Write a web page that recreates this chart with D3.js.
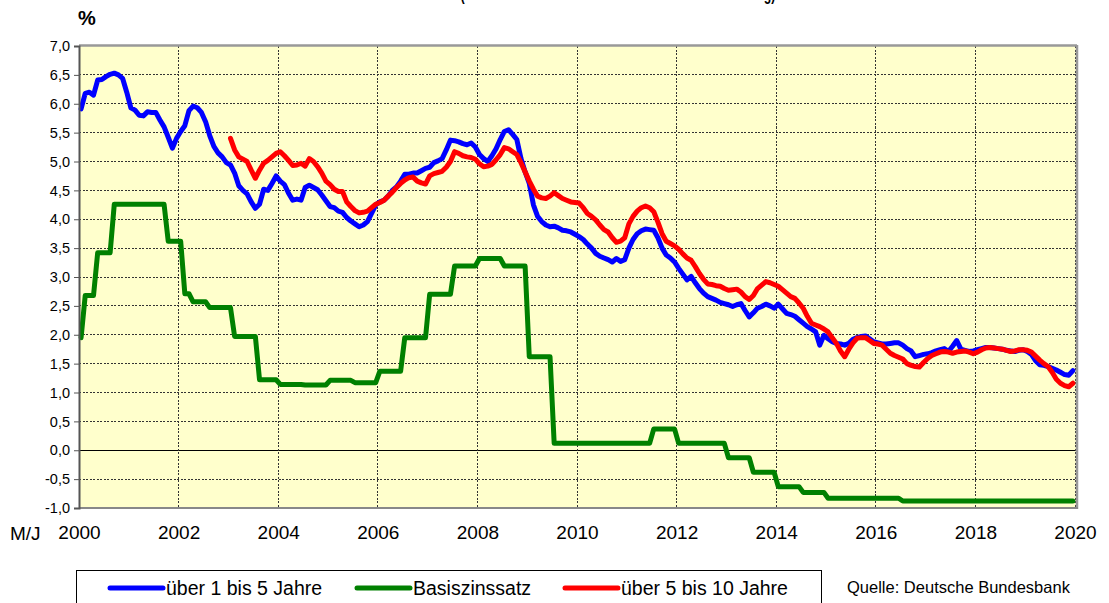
<!DOCTYPE html>
<html>
<head>
<meta charset="utf-8">
<script src="https://cdn.jsdelivr.net/npm/d3@7"></script>
<style>
  body { margin: 0; background: #fff; }
  svg { display: block; font-family: "Liberation Sans", Arial, sans-serif; }
</style>
</head>
<body>
<svg id="chart"></svg>
<script>
// monthly values, Jan 2000 .. Dec 2019 (one row per year)
const blue = [
  5.91, 6.18, 6.20, 6.15, 6.41, 6.42, 6.47, 6.51, 6.53, 6.50, 6.44, 6.20,
  5.93, 5.89, 5.80, 5.79, 5.86, 5.85, 5.85, 5.72, 5.60, 5.42, 5.23, 5.40,
  5.52, 5.62, 5.88, 5.96, 5.93, 5.85, 5.69, 5.45, 5.26, 5.15, 5.08, 4.98,
  4.94, 4.80, 4.58, 4.50, 4.44, 4.30, 4.19, 4.26, 4.52, 4.50, 4.62, 4.75,
  4.66, 4.60, 4.45, 4.33, 4.35, 4.33, 4.55, 4.59, 4.55, 4.51, 4.42, 4.32,
  4.22, 4.20, 4.14, 4.12, 4.03, 3.97, 3.92, 3.87, 3.90, 3.96, 4.10, 4.25,
  4.30, 4.33, 4.40, 4.50, 4.56, 4.66, 4.78, 4.78, 4.80, 4.80, 4.84, 4.88,
  4.90, 4.98, 5.01, 5.05, 5.20, 5.37, 5.36, 5.34, 5.31, 5.29, 5.32, 5.25,
  5.12, 5.05, 5.00, 5.10, 5.22, 5.38, 5.52, 5.55, 5.47, 5.38, 5.05, 4.82,
  4.62, 4.25, 4.05, 3.96, 3.90, 3.87, 3.88, 3.85, 3.81, 3.80, 3.78, 3.74,
  3.70, 3.65, 3.57, 3.50, 3.41, 3.36, 3.33, 3.30, 3.26, 3.32, 3.27, 3.30,
  3.50, 3.65, 3.75, 3.80, 3.83, 3.82, 3.81, 3.68, 3.50, 3.38, 3.33, 3.26,
  3.15, 3.05, 2.95, 3.01, 2.90, 2.80, 2.72, 2.66, 2.63, 2.60, 2.56, 2.54,
  2.52, 2.49, 2.52, 2.54, 2.42, 2.31, 2.38, 2.46, 2.49, 2.53, 2.50, 2.46,
  2.53, 2.45, 2.37, 2.35, 2.32, 2.26, 2.20, 2.14, 2.10, 2.05, 1.82, 1.99,
  1.93, 1.88, 1.85, 1.84, 1.82, 1.85, 1.92, 1.95, 1.97, 1.98, 1.93, 1.88,
  1.86, 1.84, 1.84, 1.85, 1.86, 1.86, 1.82, 1.76, 1.72, 1.62, 1.64, 1.66,
  1.67, 1.69, 1.72, 1.74, 1.76, 1.71, 1.80, 1.90, 1.75, 1.73, 1.71, 1.72,
  1.74, 1.76, 1.78, 1.78, 1.77, 1.76, 1.75, 1.73, 1.72, 1.71, 1.73, 1.74,
  1.71, 1.66, 1.55, 1.48, 1.47, 1.45, 1.42, 1.39, 1.35, 1.31, 1.30, 1.38
];

const green = [
  1.95, 2.68, 2.68, 2.68, 3.42, 3.42, 3.42, 3.42, 4.26, 4.26, 4.26, 4.26,
  4.26, 4.26, 4.26, 4.26, 4.26, 4.26, 4.26, 4.26, 4.26, 3.62, 3.62, 3.62,
  3.62, 2.71, 2.71, 2.57, 2.57, 2.57, 2.57, 2.47, 2.47, 2.47, 2.47, 2.47,
  2.47, 1.97, 1.97, 1.97, 1.97, 1.97, 1.97, 1.22, 1.22, 1.22, 1.22, 1.22,
  1.14, 1.14, 1.14, 1.14, 1.14, 1.14, 1.13, 1.13, 1.13, 1.13, 1.13, 1.13,
  1.21, 1.21, 1.21, 1.21, 1.21, 1.21, 1.17, 1.17, 1.17, 1.17, 1.17, 1.17,
  1.37, 1.37, 1.37, 1.37, 1.37, 1.37, 1.95, 1.95, 1.95, 1.95, 1.95, 1.95,
  2.70, 2.70, 2.70, 2.70, 2.70, 2.70, 3.19, 3.19, 3.19, 3.19, 3.19, 3.19,
  3.32, 3.32, 3.32, 3.32, 3.32, 3.32, 3.19, 3.19, 3.19, 3.19, 3.19, 3.19,
  1.62, 1.62, 1.62, 1.62, 1.62, 1.62, 0.12, 0.12, 0.12, 0.12, 0.12, 0.12,
  0.12, 0.12, 0.12, 0.12, 0.12, 0.12, 0.12, 0.12, 0.12, 0.12, 0.12, 0.12,
  0.12, 0.12, 0.12, 0.12, 0.12, 0.12, 0.37, 0.37, 0.37, 0.37, 0.37, 0.37,
  0.12, 0.12, 0.12, 0.12, 0.12, 0.12, 0.12, 0.12, 0.12, 0.12, 0.12, 0.12,
  -0.13, -0.13, -0.13, -0.13, -0.13, -0.13, -0.38, -0.38, -0.38, -0.38, -0.38, -0.38,
  -0.63, -0.63, -0.63, -0.63, -0.63, -0.63, -0.73, -0.73, -0.73, -0.73, -0.73, -0.73,
  -0.83, -0.83, -0.83, -0.83, -0.83, -0.83, -0.83, -0.83, -0.83, -0.83, -0.83, -0.83,
  -0.83, -0.83, -0.83, -0.83, -0.83, -0.83, -0.88, -0.88, -0.88, -0.88, -0.88, -0.88,
  -0.88, -0.88, -0.88, -0.88, -0.88, -0.88, -0.88, -0.88, -0.88, -0.88, -0.88, -0.88,
  -0.88, -0.88, -0.88, -0.88, -0.88, -0.88, -0.88, -0.88, -0.88, -0.88, -0.88, -0.88,
  -0.88, -0.88, -0.88, -0.88, -0.88, -0.88, -0.88, -0.88, -0.88, -0.88, -0.88, -0.88
];

// red series starts Jan 2003 (month index 36)
const redStart = 36;
const red = [
  5.40, 5.20, 5.08, 5.04, 5.00, 4.85, 4.71, 4.85, 4.97, 5.02, 5.08, 5.14,
  5.17, 5.10, 5.02, 4.93, 4.94, 4.97, 4.92, 5.05, 5.00, 4.91, 4.80, 4.66,
  4.60, 4.52, 4.48, 4.48, 4.30, 4.22, 4.15, 4.11, 4.12, 4.14, 4.20, 4.26,
  4.29, 4.33, 4.40, 4.47, 4.55, 4.62, 4.68, 4.72, 4.73, 4.66, 4.63, 4.61,
  4.75, 4.79, 4.81, 4.83, 4.90, 5.00, 5.17, 5.14, 5.10, 5.08, 5.07, 5.04,
  4.96, 4.91, 4.92, 4.95, 5.03, 5.12, 5.24, 5.22, 5.17, 5.12, 4.98, 4.82,
  4.66, 4.52, 4.40, 4.37, 4.36, 4.40, 4.46, 4.41, 4.36, 4.33, 4.30, 4.29,
  4.28, 4.20, 4.10, 4.05, 3.99, 3.90, 3.82, 3.78, 3.68, 3.60, 3.62, 3.68,
  3.92, 4.05, 4.14, 4.20, 4.23, 4.20, 4.13, 3.95, 3.75, 3.62, 3.58, 3.54,
  3.48, 3.40, 3.33, 3.29, 3.18, 3.06, 2.96, 2.88, 2.87, 2.85, 2.84, 2.80,
  2.77, 2.78, 2.79, 2.74, 2.66, 2.61, 2.68, 2.80, 2.86, 2.92, 2.90, 2.87,
  2.84, 2.78, 2.72, 2.66, 2.63, 2.55, 2.46, 2.32, 2.20, 2.17, 2.14, 2.10,
  2.05, 1.95, 1.85, 1.72, 1.62, 1.75, 1.86, 1.94, 1.95, 1.95, 1.90, 1.85,
  1.84, 1.82, 1.75, 1.68, 1.64, 1.61, 1.58, 1.50, 1.47, 1.45, 1.44, 1.52,
  1.59, 1.64, 1.67, 1.70, 1.71, 1.70, 1.68, 1.70, 1.71, 1.72, 1.70, 1.67,
  1.70, 1.74, 1.77, 1.78, 1.77, 1.76, 1.75, 1.73, 1.71, 1.72, 1.74, 1.74,
  1.73, 1.70, 1.63, 1.56, 1.50, 1.45, 1.35, 1.23, 1.16, 1.12, 1.10, 1.16
];

const yearLabels = [2000, 2002, 2004, 2006, 2008, 2010, 2012, 2014, 2016, 2018, 2020];
const yTicks = [-1.0, -0.5, 0.0, 0.5, 1.0, 1.5, 2.0, 2.5, 3.0, 3.5, 4.0, 4.5, 5.0, 5.5, 6.0, 6.5, 7.0];
const seriesNames = ["über 1 bis 5 Jahre", "Basiszinssatz", "über 5 bis 10 Jahre"];
const seriesColors = ["#0000ff", "#008000", "#ff0000"];

const W = 1109, H = 603;
const plot = {left: 79, right: 1076, top: 46, bottom: 508};
const firstYear = 2000;

const svg = d3.select("#chart").attr("width", W).attr("height", H);

const x = d3.scaleLinear().domain([0, 240]).range([plot.left, plot.right - 1]);
const y = d3.scaleLinear().domain([-1, 7]).range([plot.bottom, plot.top]);
const fmt = v => v.toFixed(1).replace(".", ",");

// title (mostly outside the picture, only the descenders show)
svg.append("text")
    .attr("x", 618).attr("y", -0.5)
    .attr("text-anchor", "middle")
    .attr("font-size", 18).attr("font-weight", "bold")
    .attr("textLength", 315).attr("lengthAdjust", "spacingAndGlyphs")
    .text("(Durchschnittsrenditen nach Restlaufzeit-Gliederung)");

svg.append("text")
    .attr("x", 87).attr("y", 25)
    .attr("text-anchor", "middle")
    .attr("font-size", 20).attr("font-weight", "bold")
    .text("%");

// plot background
svg.append("rect")
    .attr("x", plot.left).attr("y", plot.top)
    .attr("width", plot.right - plot.left).attr("height", plot.bottom - plot.top)
    .attr("fill", "#ffffcc");

// grid
const grid = svg.append("g");
grid.selectAll(".hgrid")
    .data(yTicks.filter(v => v > -1 && v < 7))
    .join("line")
    .attr("x1", plot.left).attr("x2", plot.right)
    .attr("y1", d => y(d)).attr("y2", d => y(d))
    .attr("stroke", d => d === 0 ? "#000" : "#333")
    .attr("stroke-width", 1)
    .attr("stroke-dasharray", d => d === 0 ? null : "2,1.5")
    .attr("shape-rendering", "crispEdges");

grid.selectAll(".vgrid")
    .data(yearLabels.filter(yr => yr > firstYear))
    .join("line")
    .attr("x1", d => x((d - firstYear) * 12)).attr("x2", d => x((d - firstYear) * 12))
    .attr("y1", plot.top).attr("y2", plot.bottom)
    .attr("stroke", "#333")
    .attr("stroke-width", 1)
    .attr("stroke-dasharray", "2,1.5")
    .attr("shape-rendering", "crispEdges");

// series
const line = d3.line()
    .defined(d => d.v != null)
    .x(d => x(d.i + 0.5))
    .y(d => y(d.v));

const blueData = blue.map((v, i) => ({i, v}));
const greenData = green.map((v, i) => ({i, v}));
const redData = red.map((v, i) => ({i: i + redStart, v}));

[[greenData, seriesColors[1]], [blueData, seriesColors[0]], [redData, seriesColors[2]]].forEach(([data, color]) => {
    svg.append("path")
        .datum(data)
        .attr("d", line)
        .attr("fill", "none")
        .attr("stroke", color)
        .attr("stroke-width", 5)
        .attr("stroke-linejoin", "round")
        .attr("stroke-linecap", "round");
});

// frame
svg.append("line").attr("x1", plot.left).attr("x2", plot.right + 1).attr("y1", plot.top - 0.5).attr("y2", plot.top - 0.5)
    .attr("stroke", "#999").attr("stroke-width", 2.5);
svg.append("line").attr("x1", plot.right + 1).attr("x2", plot.right + 1).attr("y1", plot.top - 1).attr("y2", plot.bottom + 1)
    .attr("stroke", "#999").attr("stroke-width", 2.5);
svg.append("line").attr("x1", plot.left).attr("x2", plot.right + 2).attr("y1", plot.bottom).attr("y2", plot.bottom)
    .attr("stroke", "#888").attr("stroke-width", 2);

// y axis
const yAxis = svg.append("g")
    .attr("transform", `translate(${plot.left},0)`)
    .call(d3.axisLeft(y).tickValues(yTicks).tickSize(5).tickPadding(4).tickFormat(fmt));
yAxis.select(".domain").attr("stroke", "#555").attr("stroke-width", 2);
yAxis.selectAll(".tick line").attr("stroke", "#555");
yAxis.selectAll("text")
    .attr("font-size", 14.5)
    .attr("font-family", "'Liberation Sans', Arial, sans-serif")
    .attr("fill", "#000");

// x axis labels
const xAxis = svg.append("g")
    .attr("transform", `translate(0,${plot.bottom})`)
    .call(d3.axisBottom(x)
        .tickValues(yearLabels.map(yr => (yr - firstYear) * 12))
        .tickSize(0).tickPadding(18)
        .tickFormat(d => firstYear + d / 12));
xAxis.select(".domain").remove();
xAxis.selectAll("text")
    .attr("font-size", 19)
    .attr("font-family", "'Liberation Sans', Arial, sans-serif")
    .attr("fill", "#000");

svg.append("text")
    .attr("x", 10).attr("y", 540)
    .attr("font-size", 19)
    .text("M/J");

// legend
const legend = svg.append("g");
legend.append("rect")
    .attr("x", 76.5).attr("y", 570.5)
    .attr("width", 745).attr("height", 45)
    .attr("fill", "#fff").attr("stroke", "#000").attr("stroke-width", 1);

const legendX = [110, 357, 565];
seriesNames.forEach((name, k) => {
    const lx = legendX[k];
    legend.append("line")
        .attr("x1", lx).attr("x2", lx + 53)
        .attr("y1", 588).attr("y2", 588)
        .attr("stroke", seriesColors[k]).attr("stroke-width", 5)
        .attr("stroke-linecap", "round");
    legend.append("text")
        .attr("x", lx + 56).attr("y", 595)
        .attr("font-size", 19.5)
        .text(name);
});

svg.append("text")
    .attr("x", 847).attr("y", 593)
    .attr("font-size", 16.5)
    .text("Quelle: Deutsche Bundesbank");
</script>
</body>
</html>
